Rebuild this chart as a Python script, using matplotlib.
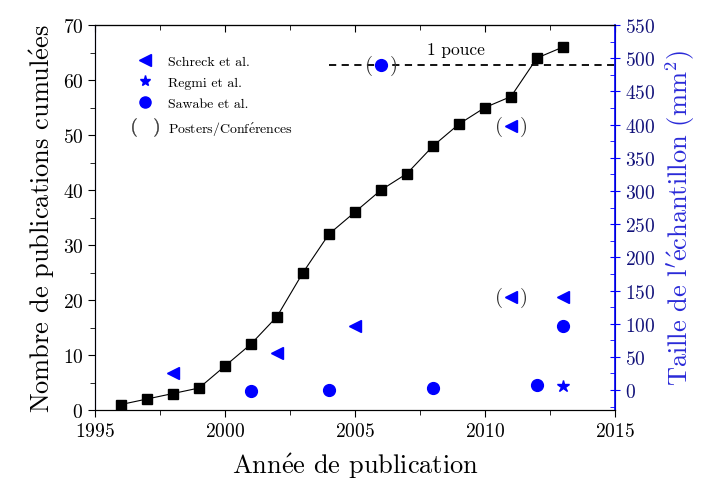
import matplotlib
matplotlib.use("Agg")
import matplotlib.pyplot as plt
from matplotlib.lines import Line2D
from matplotlib.ticker import MultipleLocator

plt.rcParams['font.family'] = ['cmr10', 'DejaVu Serif']
plt.rcParams['mathtext.fontset'] = 'cm'
plt.rcParams['axes.formatter.use_mathtext'] = True

# cumulative publications (left axis)
years = [1996, 1997, 1998, 1999, 2000, 2001, 2002, 2003, 2004, 2005, 2006,
         2007, 2008, 2009, 2010, 2011, 2012, 2013]
cumul = [1, 2, 3, 4, 8, 12, 17, 25, 32, 36, 40, 43, 48, 52, 55, 57, 64, 66]

# sample sizes (right axis, mm^2)
schreck_years = [1998, 2002, 2005, 2011, 2011, 2013]
schreck_size = [26, 56, 96, 140, 398, 140]
regmi_years = [2013]
regmi_size = [6]
sawabe_years = [2001, 2004, 2006, 2008, 2012, 2013]
sawabe_size = [-1, 0, 490, 3, 8, 96]

# points presented as posters / conferences
poster_years = [2006, 2011, 2011]
poster_size = [490, 398, 140]

inch_size = 490
inch_start, inch_end = 2004, 2015

blue = '#0000ff'
navy = '#12127a'

E_ACUTE = r'$\mathrm{\acute{e}}$'

fig = plt.figure(figsize=(7.04, 4.89), dpi=100)
ax = fig.add_axes([0.135, 0.1595, 0.7386, 0.7873])
ax2 = ax.twinx()

ax.plot(years, cumul, color='black', lw=0.8, marker='s', ms=6.5,
        mfc='black', mec='black')
ax.set_xlim(1995, 2015)
ax.set_ylim(0, 70)
ax.xaxis.set_major_locator(MultipleLocator(5))
ax.xaxis.set_minor_locator(MultipleLocator(2.5))
ax.yaxis.set_major_locator(MultipleLocator(10))
ax.yaxis.set_minor_locator(MultipleLocator(5))
ax.tick_params(axis='both', which='major', labelsize=14, length=5, direction='out')
ax.tick_params(axis='both', which='minor', length=3.5, direction='out')
ax.set_xlabel('Ann' + E_ACUTE + 'e de publication', fontsize=19, labelpad=8)
ax.set_ylabel('Nombre de publications cumul' + E_ACUTE + 'es', fontsize=19,
              labelpad=4)
ax.spines['left'].set_color('#2a2ad0')

top = ax.secondary_xaxis('top')
top.xaxis.set_major_locator(MultipleLocator(5))
top.xaxis.set_minor_locator(MultipleLocator(2.5))
top.tick_params(which='major', direction='in', length=5, labeltop=False)
top.tick_params(which='minor', direction='in', length=3.5)

ax2.set_ylim(-30, 550)
ax2.yaxis.set_major_locator(MultipleLocator(50))
ax2.yaxis.set_minor_locator(MultipleLocator(25))
ax2.tick_params(axis='y', which='major', labelsize=14, length=7,
                direction='inout', color=blue, labelcolor=navy)
ax2.tick_params(axis='y', which='minor', length=3.5, direction='in', color=blue)
ax2.spines['right'].set_color(blue)
ax2.spines['right'].set_linewidth(1.2)
ax2.set_ylabel(r"Taille de l$^\prime$" + E_ACUTE + 'chantillon (mm$^2$)',
               fontsize=19, color='#2a2ad8', labelpad=6)

ax2.plot([inch_start, inch_end], [inch_size, inch_size], color='black', lw=1.3,
         ls=(0, (4, 3)))
ax2.text(2008.9, inch_size + 12, '1 pouce', fontsize=12.5, ha='center',
         va='bottom')

ax2.plot(schreck_years, schreck_size, ls='none', marker='<', ms=9, color=blue)
ax2.plot(regmi_years, regmi_size, ls='none', marker='*', ms=9, color=blue)
ax2.plot(sawabe_years, sawabe_size, ls='none', marker='o', ms=8.5, color=blue)

for x, y in zip(poster_years, poster_size):
    ax2.annotate('(', (x, y), xytext=(-9, 0), textcoords='offset points',
                 ha='center', va='center', fontsize=15, color='#333333')
    ax2.annotate(')', (x, y), xytext=(9, 0), textcoords='offset points',
                 ha='center', va='center', fontsize=15, color='#333333')

handles = [
    Line2D([], [], ls='none', marker='<', ms=8, color=blue),
    Line2D([], [], ls='none', marker='*', ms=8, color=blue),
    Line2D([], [], ls='none', marker='o', ms=8, color=blue),
    Line2D([], [], ls='none', marker=r'$(\ \ \ )$', ms=19, color='#333333',
           mew=0.3),
]
labels = ['Schreck et al.', 'Regmi et al.', 'Sawabe et al.',
          'Posters/Conf' + E_ACUTE + 'rences']
ax2.legend(handles, labels, loc='upper left', bbox_to_anchor=(0.045, 0.955),
           frameon=False, fontsize=10, handletextpad=0.7, labelspacing=0.62)

fig.savefig('out.png', dpi=100)
